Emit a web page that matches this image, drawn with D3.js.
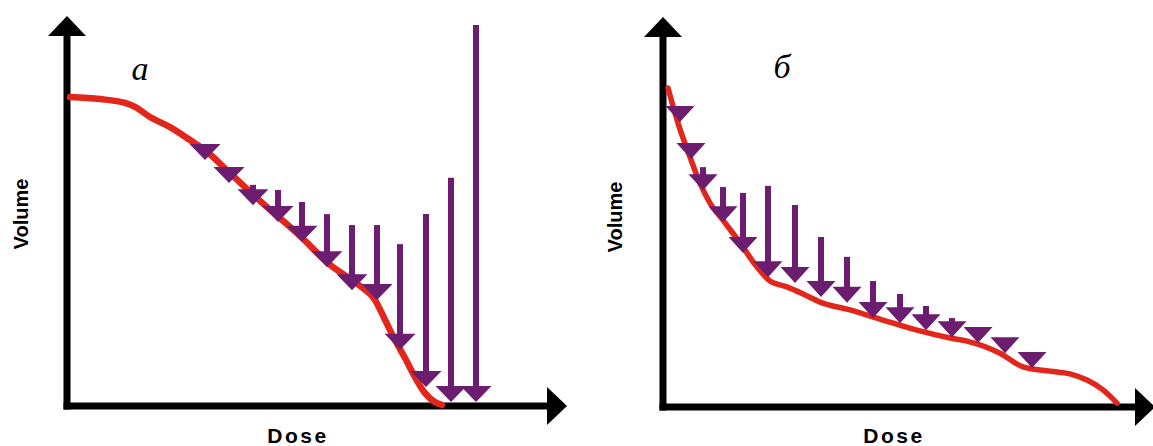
<!DOCTYPE html>
<html>
<head>
<meta charset="utf-8">
<script src="https://cdn.jsdelivr.net/npm/d3@7"></script>
<style>
    body { margin: 0; background: #ffffff; }
    svg { display: block; }
</style>
</head>
<body>
<div id="chart"></div>
<script>
// Curva DVH (panel a)
const leftDose   = [0.6, 6.6, 11.6, 13.6, 16.6, 20.6, 24.6, 27.6, 32.6, 38.6, 46.6, 52.6, 58.6, 61.6, 63.6, 65.6, 67.6, 69.6, 71.6, 73.6, 75.0];
const leftVolume = [79.2, 78.7, 77.7, 76.7, 74.1, 71.5, 68.2, 65.6, 59.7, 52.6, 43.6, 36.2, 30.8, 27.2, 22.1, 16.9, 12.3, 7.4, 3.3, 1.0, 0.3];

// Flechas (panel a)
const leftArrowDose = [27.6, 32.4, 37.2, 42.2, 47.0, 52.0, 57.0, 62.0, 66.6, 71.8, 76.8, 81.8];
const leftArrowFrom = [63.1, 57.2, 56.7, 55.4, 52.3, 49.2, 46.4, 46.4, 41.5, 49.2, 58.5, 97.7];
const leftArrowTo   = [63.1, 57.2, 51.5, 47.2, 42.1, 35.6, 29.7, 27.2, 14.4, 4.9, 1.0, 1.0];

// Curva DVH (panel б)
const rightDose   = [1.0, 3.0, 5.4, 7.4, 9.4, 12.0, 15.4, 18.8, 21.4, 24.8, 28.0, 31.4, 37.4, 44.0, 50.8, 57.4, 60.8, 67.4, 72.0, 77.4, 81.4, 84.8, 88.0, 90.8];
const rightVolume = [81.8, 72.8, 64.1, 57.4, 52.3, 47.9, 42.1, 35.9, 32.3, 30.8, 29.0, 26.9, 24.9, 22.3, 19.7, 17.7, 16.9, 13.8, 10.3, 9.2, 8.5, 6.9, 4.4, 1.0];

// Flechas (panel б)
const rightArrowDose = [3.4, 5.6, 8.0, 12.0, 16.0, 21.0, 26.4, 31.6, 36.8, 42.0, 47.4, 52.6, 57.8, 63.0, 68.4, 73.8];
const rightArrowFrom = [73.1, 63.6, 61.5, 56.4, 54.9, 56.7, 51.8, 43.6, 38.5, 32.3, 29.0, 25.9, 22.8, 16.4, 13.8, 10.0];
const rightArrowTo   = [73.1, 63.6, 55.6, 47.4, 39.5, 33.3, 31.8, 28.2, 26.7, 22.8, 21.5, 19.7, 17.9, 16.4, 13.8, 10.0];

const panelLetters = ["а", "б"];
const xTitle = "Dose";
const yTitle = "Volume";

const red = "#e3261c";
const purple = "#6c1d70";

const svg = d3.select("#chart").append("svg")
    .attr("width", 1153)
    .attr("height", 446);

drawPanel({
    xRange: [67, 567], yRange: [406, 16], xTip: 100, yTip: 100,
    dose: leftDose, volume: leftVolume,
    arrowDose: leftArrowDose, arrowFrom: leftArrowFrom, arrowTo: leftArrowTo,
    letter: panelLetters[0], letterPos: [140, 80],
    yTitlePos: [21, 214], xTitlePos: [298, 443],
    lineWidth: 6.5, triW: 31
});

drawPanel({
    xRange: [663, 1163], yRange: [407, 17], xTip: 98.4, yTip: 100,
    dose: rightDose, volume: rightVolume,
    arrowDose: rightArrowDose, arrowFrom: rightArrowFrom, arrowTo: rightArrowTo,
    letter: panelLetters[1], letterPos: [782, 78],
    yTitlePos: [615, 217], xTitlePos: [894, 443],
    lineWidth: 5.5, triW: 29
});

function drawPanel(p){
    const x = d3.scaleLinear().domain([0, 100]).range(p.xRange);
    const y = d3.scaleLinear().domain([0, 100]).range(p.yRange);
    const g = svg.append("g");

    const head = 20, half = 19, axisW = 7;

    // Ejes con flecha
    g.append("line")
        .attr("x1", x(0)).attr("y1", y(0) + axisW / 2)
        .attr("x2", x(0)).attr("y2", y(p.yTip) + head - 1)
        .attr("stroke", "#000").attr("stroke-width", axisW);
    g.append("path")
        .attr("d", `M${x(0)},${y(p.yTip)} L${x(0) - half},${y(p.yTip) + head} L${x(0) + half},${y(p.yTip) + head} Z`)
        .attr("fill", "#000");

    g.append("line")
        .attr("x1", x(0) - axisW / 2).attr("y1", y(0))
        .attr("x2", x(p.xTip) - head + 1).attr("y2", y(0))
        .attr("stroke", "#000").attr("stroke-width", axisW);
    g.append("path")
        .attr("d", `M${x(p.xTip)},${y(0)} L${x(p.xTip) - head},${y(0) - half} L${x(p.xTip) - head},${y(0) + half} Z`)
        .attr("fill", "#000");

    // Curva roja
    const pts = p.dose.map((d, i) => [d, p.volume[i]]);
    const line = d3.line()
        .x(d => x(d[0]))
        .y(d => y(d[1]))
        .curve(d3.curveMonotoneX);
    g.append("path")
        .datum(pts)
        .attr("d", line)
        .attr("fill", "none")
        .attr("stroke", red)
        .attr("stroke-width", p.lineWidth)
        .attr("stroke-linecap", "round")
        .attr("stroke-linejoin", "round");

    // Flechas moradas
    const triH = 16;
    const arrows = p.arrowDose.map((d, i) => ({ dose: d, from: p.arrowFrom[i], to: p.arrowTo[i] }));
    const ag = g.selectAll("g.arrow")
        .data(arrows)
        .join("g")
        .attr("class", "arrow");

    ag.filter(d => y(d.to) - triH - y(d.from) > 0)
        .append("line")
        .attr("x1", d => x(d.dose)).attr("x2", d => x(d.dose))
        .attr("y1", d => y(d.from))
        .attr("y2", d => y(d.to) - triH + 1)
        .attr("stroke", purple)
        .attr("stroke-width", 6);

    ag.append("path")
        .attr("d", d => {
            const cx = x(d.dose), ty = y(d.to);
            return `M${cx},${ty} L${cx - p.triW / 2},${ty - triH} L${cx + p.triW / 2},${ty - triH} Z`;
        })
        .attr("fill", purple);

    // Textos
    g.append("text")
        .attr("x", p.letterPos[0]).attr("y", p.letterPos[1])
        .attr("text-anchor", "middle")
        .style("font-family", "'Liberation Serif', serif")
        .style("font-style", "italic")
        .style("font-size", "34px")
        .text(p.letter);

    g.append("text")
        .attr("transform", `translate(${p.yTitlePos[0]},${p.yTitlePos[1]}) rotate(-90)`)
        .attr("text-anchor", "middle")
        .attr("dominant-baseline", "central")
        .style("font-family", "'Liberation Sans', Arial, sans-serif")
        .style("font-weight", "bold")
        .style("font-size", "20px")
        .text(yTitle);

    g.append("text")
        .attr("x", p.xTitlePos[0]).attr("y", p.xTitlePos[1])
        .attr("text-anchor", "middle")
        .style("font-family", "'Liberation Sans', Arial, sans-serif")
        .style("font-weight", "bold")
        .style("font-size", "21px")
        .style("letter-spacing", "2.5px")
        .text(xTitle);
}
</script>
</body>
</html>
